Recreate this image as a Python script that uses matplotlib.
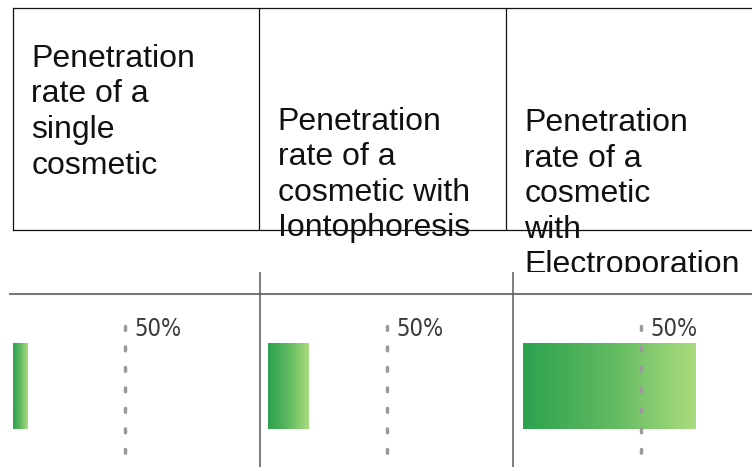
import matplotlib
matplotlib.use("Agg")
import matplotlib.pyplot as plt
import matplotlib.transforms as mtransforms
import numpy as np
from matplotlib.colors import LinearSegmentedColormap

# ---- data -------------------------------------------------------------
headers = [
    "Penetration\nrate of a\nsingle\ncosmetic",
    "Penetration\nrate of a\ncosmetic with\nIontophoresis",
    "Penetration\nrate of a\ncosmetic\nwith\nElectroporation",
]
penetration = [6.5, 17.2, 73.3]  # % penetration per method
reference = 50
reference_label = "50%"

# ---- layout (pixels of a 752x471 canvas) -------------------------------
W, H = 752, 471
fig = plt.figure(figsize=(W / 100, H / 100), dpi=100)


def px_axes(x0, y0, x1, y1):
    """Axes placed by pixel box (y measured from the top)."""
    return fig.add_axes([x0 / W, 1 - y1 / H, (x1 - x0) / W, (y1 - y0) / H])


# header table
ax_t = px_axes(13, 8, 752, 230)
ax_t.set_zorder(0)
ax_t.set_xlim(0, len(headers))
ax_t.set_ylim(0, 1)
ax_t.set_xticks([])
ax_t.set_yticks([])
for side in ("top", "bottom", "left"):
    ax_t.spines[side].set(linewidth=0.9, color="#111111")
ax_t.spines["right"].set_visible(False)
for i in range(1, len(headers)):
    ax_t.axvline(i, color="#111111", lw=0.9)

text_top = [0.838, 0.556, 0.548]
for i, (txt, yt) in enumerate(zip(headers, text_top)):
    ax_t.text(i + 0.075, yt, txt, fontsize=23, family="Liberation Sans",
              va="top", ha="left", linespacing=1.24, color="#111111")

# lower image area (white, sits on top of overflowing header text)
ax_b = px_axes(9, 272, 752, 467)
ax_b.set_zorder(2)
ax_b.set_facecolor("white")
ax_b.set_xticks([])
ax_b.set_yticks([])
for s in ax_b.spines.values():
    s.set_visible(False)
ax_b.axhline(0.887, color="#777777", lw=1.5)
for xf in (0.338, 0.678):
    ax_b.axvline(xf, color="#5a5a5a", lw=1.1)

green = LinearSegmentedColormap.from_list(
    "grn", ["#2da24f", "#5fb960", "#aadc7e"])
grad = np.linspace(0, 1, 256).reshape(1, -1)

panel_px = [(13, 237), (268, 506), (523, 759)]
for (x0, x1), val in zip(panel_px, penetration):
    ax = px_axes(x0, 300, x1, 465)
    ax.set_zorder(3)
    bar = ax.barh(0.4785, val, height=0.521, left=0, color="none", lw=0)[0]
    im = ax.imshow(grad, cmap=green, aspect="auto", interpolation="bilinear",
                   extent=(bar.get_x(), bar.get_x() + bar.get_width(),
                           bar.get_y(), bar.get_y() + bar.get_height()))
    im.set_clip_path(bar)
    # 50% reference: column of elongated grey dots
    ax.plot([reference, reference], [0.845, 0.055], color="#9a9a9a",
            lw=2.5, dashes=(1.1, 4.8), dash_capstyle="round")
    ax.text(reference, 0.782, reference_label,
            transform=mtransforms.offset_copy(ax.transData, fig=fig,
                                              x=9, y=0, units="dots"),
            fontsize=17, family="DejaVu Sans", fontstretch="condensed",
            va="baseline", ha="left", color="#3a3a3a")
    ax.set_xlim(0, 100)
    ax.set_ylim(0, 1)
    ax.axis("off")

fig.savefig("out.png", dpi=100, facecolor="white")
